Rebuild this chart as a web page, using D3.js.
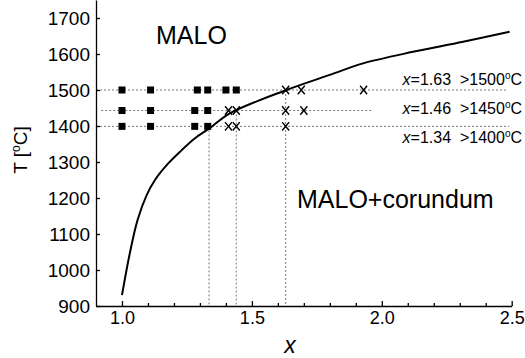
<!DOCTYPE html>
<html><head><meta charset="utf-8">
<script src="https://cdn.jsdelivr.net/npm/d3@7"></script>
<style>body{margin:0;background:#fff}svg{display:block;font-family:"Liberation Sans",Arial,sans-serif}</style>
</head><body><svg id="c" width="525" height="358"></svg>
<script>
// ---- data ----
const xTicks = [1.0, 1.5, 2.0, 2.5];
const xMinorTicks = [1.1,1.2,1.3,1.4,1.6,1.7,1.8,1.9,2.1,2.2,2.3,2.4];
const yTicks = [900,1000,1100,1200,1300,1400,1500,1600,1700];
const curveX = [1.0,1.03,1.06,1.095,1.127,1.178,1.23,1.281,1.338,1.415,1.633,1.8,1.928,2.12,2.313,2.492];
const curveT = [930,1046,1139,1208,1250,1296,1333,1366,1394,1435,1500,1542,1574,1606,1634,1662];
const rowT = [1500, 1443, 1399];
const rowLineStart = [0.9, 0.92, 0.9];
const rowLineEnd = [2.48, 1.965, 2.49];
const squaresX = [[1.0,1.11,1.29,1.33,1.40,1.44],[1.0,1.11,1.28,1.33],[1.0,1.11,1.28,1.33]];
const crossesX = [[1.63,1.69,1.93],[1.41,1.44,1.63,1.70],[1.41,1.44,1.63]];
const limitX = [1.63, 1.44, 1.335];
const limitX_lab = ["1.63","1.46","1.34"];
const limitT_lab = ["1500","1450","1400"];
const regionLabels = ["MALO","MALO+corundum"];

// ---- layout ----
const svg = d3.select("#c");
const x = d3.scaleLinear().domain([0.9,2.5]).range([96,511.7]);
const y = d3.scaleLinear().domain([900,1750]).range([306,0]);

// dotted guide lines
const g = svg.append("g");
rowT.forEach((t,i)=>{
  g.append("line").attr("x1",x(rowLineStart[i])).attr("x2",x(rowLineEnd[i]))
   .attr("y1",y(t)).attr("y2",y(t))
   .attr("stroke","#777").attr("stroke-width",1).attr("stroke-dasharray","2,2");
  g.append("line").attr("x1",x(limitX[i])).attr("x2",x(limitX[i]))
   .attr("y1",y(t)).attr("y2",y(900))
   .attr("stroke","#777").attr("stroke-width",1).attr("stroke-dasharray","2,2");
});

// curve
const line = d3.line().x(d=>x(d[0])).y(d=>y(d[1])).curve(d3.curveCatmullRom);
svg.append("path").datum(curveX.map((v,i)=>[v,curveT[i]])).attr("d",line)
  .attr("fill","none").attr("stroke","#000").attr("stroke-width",2);

// markers
rowT.forEach((t,i)=>{
  squaresX[i].forEach(v=>{
    svg.append("rect").attr("x",x(v)-3.5).attr("y",y(t)-3.5).attr("width",7).attr("height",7).attr("fill","#000");
  });
  crossesX[i].forEach(v=>{
    const cx=x(v), cy=y(t);
    svg.append("path").attr("d",`M${cx-3.5},${cy-4.2}L${cx+3.5},${cy+4.2}M${cx+3.5},${cy-4.2}L${cx-3.5},${cy+4.2}`)
      .attr("stroke","#000").attr("stroke-width",1.4).attr("fill","none");
  });
});

// axes
const xAxis = d3.axisBottom(x).tickValues(xTicks).tickFormat(d3.format(".1f")).tickSizeInner(-5).tickSizeOuter(0).tickPadding(5);
const gx = svg.append("g").attr("transform","translate(0,306)").call(xAxis);
gx.selectAll("text").attr("font-size",18).attr("fill","#000").attr("font-family","Liberation Sans, Arial, sans-serif");
const xMinor = d3.axisBottom(x).tickValues(xMinorTicks).tickFormat("").tickSizeInner(-3).tickSizeOuter(0);
const gxm = svg.append("g").attr("transform","translate(0,306)").call(xMinor);
gxm.select(".domain").remove();
const yAxis = d3.axisLeft(y).tickValues(yTicks).tickFormat(d3.format("d")).tickSizeInner(-4).tickSizeOuter(0).tickPadding(6);
const gy = svg.append("g").attr("transform","translate(96,0)").call(yAxis);
gy.selectAll("text").attr("font-size",19).attr("fill","#000").attr("font-family","Liberation Sans, Arial, sans-serif");
[gx,gxm,gy].forEach(a=>{a.selectAll("path,line").attr("stroke","#000").attr("stroke-width",1.3);});

// axis titles
svg.append("text").attr("x",290).attr("y",353).attr("text-anchor","middle")
  .attr("font-size",23).attr("font-style","italic").text("x");
const yt = svg.append("text").attr("transform","translate(27,150) rotate(-90)").attr("text-anchor","middle").attr("font-size",19);
yt.append("tspan").text("T [");
yt.append("tspan").attr("font-size",12).attr("dy",-7).text("o");
yt.append("tspan").attr("dy",7).text("C]");

// region labels
svg.append("text").attr("x",156).attr("y",44).attr("font-size",25).text(regionLabels[0]);
svg.append("text").attr("x",297).attr("y",208).attr("font-size",25).text(regionLabels[1]);

// annotations
const annY = [85, 114, 143];
limitX_lab.forEach((lab,i)=>{
  const t = svg.append("text").attr("x",522).attr("y",annY[i]).attr("text-anchor","end").attr("font-size",16).attr("xml:space","preserve");
  t.append("tspan").attr("font-style","italic").text("x");
  t.append("tspan").text("=" + lab + "  >" + limitT_lab[i]);
  t.append("tspan").attr("font-size",10).attr("dy",-6).text("o");
  t.append("tspan").attr("dy",6).text("C");
});
</script></body></html>
